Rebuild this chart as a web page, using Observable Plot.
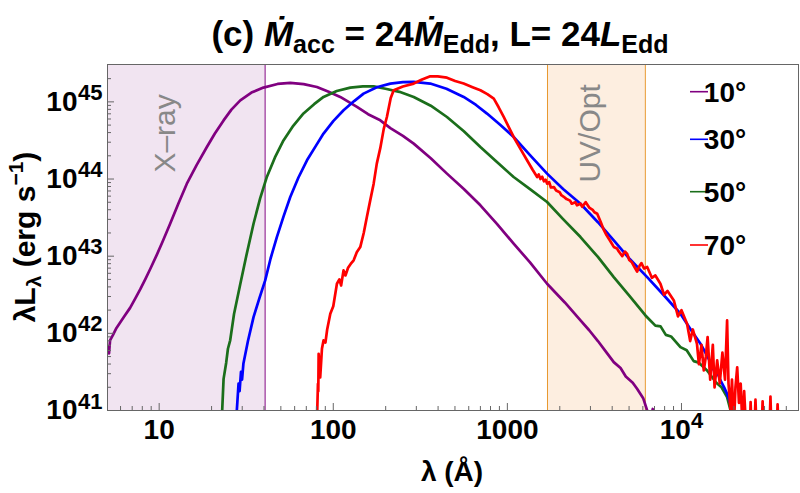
<!DOCTYPE html>
<html><head><meta charset="utf-8">
<script src="https://cdn.jsdelivr.net/npm/d3@7"></script>
<script src="https://cdn.jsdelivr.net/npm/@observablehq/plot@0.6"></script>
<style>
html,body{margin:0;padding:0;background:#fff;}
#chart{width:800px;height:493px;}
</style></head><body><div id="chart"></div>
<script>
// ---- Data (log10 of wavelength in Å and of λLλ in erg/s) ----
const angles = ["10°", "30°", "50°", "70°"];
const colors = ["#800080", "#0000ff", "#1b6e1b", "#ff0000"];

const lam10deg = [0.705,0.712,0.718,0.735,0.755,0.776,0.80,0.833,0.86,0.891,0.92,0.95,0.987,1.02,1.063,1.11,1.159,1.215,1.274,1.32,1.37,1.415,1.466,1.53,1.599,1.68,1.753,1.83,1.906,1.97,2.04,2.136,2.20,2.270,2.328,2.40,2.462,2.56,2.653,2.75,2.845,2.94,3.036,3.13,3.228,3.33,3.420,3.47,3.52,3.57,3.611,3.65,3.68,3.72,3.745,3.78,3.803,3.82,3.835,3.85];
const L10deg   = [41.83,41.74,41.91,41.98,42.07,42.14,42.22,42.33,42.44,42.57,42.70,42.84,43.02,43.19,43.42,43.68,43.94,44.18,44.415,44.59,44.76,44.90,45.02,45.12,45.185,45.232,45.245,45.23,45.193,45.135,45.064,44.934,44.84,44.761,44.66,44.56,44.459,44.27,44.070,43.87,43.659,43.42,43.162,42.92,42.643,42.40,42.167,42.04,41.90,41.75,41.627,41.55,41.44,41.36,41.281,41.16,41.0,40.85,41.02,40.7];

const lam30deg = [1.443,1.446,1.456,1.462,1.47,1.476,1.484,1.51,1.542,1.575,1.609,1.64,1.676,1.715,1.753,1.80,1.849,1.90,1.944,2.00,2.059,2.12,2.174,2.25,2.328,2.40,2.462,2.557,2.65,2.749,2.82,2.883,2.96,3.036,3.13,3.228,3.32,3.42,3.52,3.611,3.70,3.803,3.90,3.994,4.05,4.109,4.15,4.186,4.205,4.224,4.245,4.262,4.28,4.301,4.31];
const L30deg   = [40.7,41.0,41.35,41.25,41.50,41.40,41.61,41.90,42.21,42.45,42.686,42.97,43.248,43.52,43.767,44.02,44.243,44.43,44.589,44.75,44.891,45.01,45.107,45.19,45.237,45.255,45.258,45.237,45.17,45.064,44.96,44.848,44.70,44.545,44.31,44.070,43.87,43.680,43.44,43.205,42.97,42.729,42.49,42.254,42.06,41.865,41.70,41.519,41.50,41.389,41.30,41.216,41.10,41.0,40.7];

const lam50deg = [1.360,1.362,1.370,1.385,1.395,1.408,1.43,1.466,1.50,1.542,1.58,1.619,1.665,1.714,1.77,1.829,1.89,1.944,2.02,2.098,2.17,2.232,2.30,2.38,2.462,2.56,2.653,2.75,2.845,2.94,3.036,3.13,3.228,3.32,3.42,3.52,3.611,3.70,3.793,3.85,3.88,3.91,3.94,3.994,4.03,4.07,4.10,4.147,4.20,4.23,4.262,4.282,4.30];
const L50deg   = [40.7,41.0,41.41,41.62,41.80,41.91,42.25,42.64,43.0,43.42,43.75,44.03,44.28,44.50,44.69,44.85,44.97,45.064,45.14,45.185,45.20,45.20,45.17,45.13,45.064,44.95,44.804,44.62,44.415,44.22,44.026,43.87,43.702,43.48,43.248,42.99,42.729,42.49,42.232,42.10,42.09,41.98,41.96,41.821,41.78,41.64,41.62,41.519,41.36,41.30,41.173,41.0,40.7];

const lam70deg = [1.906,1.908,1.912,1.914,1.916,1.925,1.935,1.944,1.955,1.965,1.983,2.00,2.021,2.035,2.045,2.059,2.07,2.085,2.10,2.117,2.135,2.155,2.175,2.193,2.212,2.232,2.25,2.27,2.29,2.308,2.33,2.347,2.40,2.462,2.51,2.557,2.60,2.653,2.70,2.749,2.80,2.845,2.885,2.922,2.95,2.979,3.036,3.075,3.113,3.145,3.171,3.18,3.19,3.20,3.21,3.22,3.228,3.24,3.25,3.267,3.28,3.30,3.31,3.324,3.34,3.36,3.37,3.39,3.40,3.42,3.43,3.45,3.47,3.49,3.50,3.516,3.535,3.554,3.57,3.59,3.611,3.63,3.64,3.66,3.675,3.688,3.70,3.715,3.73,3.745,3.76,3.77,3.785,3.803,3.83,3.85,3.879,3.90,3.92,3.956,3.98,4.00,4.032,4.05,4.065,4.089,4.10,4.115,4.128,4.14,4.15,4.165,4.18,4.19,4.205,4.22,4.235,4.25,4.262,4.27,4.282,4.29,4.301,4.31,4.32,4.33,4.34,4.35,4.36,4.37,4.38,4.392,4.397,4.403,4.418,4.425,4.432,4.46,4.466,4.472,4.505,4.511,4.517,4.546,4.552,4.558];
const L70deg   = [40.7,41.0,41.346,41.25,41.735,41.43,41.80,41.908,41.88,42.05,42.254,42.35,42.643,42.70,42.62,42.816,42.75,42.85,42.90,42.946,43.05,43.118,43.30,43.507,43.72,43.940,44.20,44.40,44.65,44.804,45.05,45.150,45.20,45.237,45.29,45.332,45.33,45.314,45.27,45.237,45.19,45.150,45.10,45.042,44.93,44.804,44.545,44.39,44.243,44.12,44.026,44.06,44.00,44.03,43.97,43.99,43.94,43.96,43.89,43.896,43.85,43.83,43.79,43.77,43.74,43.72,43.68,43.70,43.66,43.68,43.64,43.70,43.63,43.60,43.57,43.55,43.45,43.34,43.27,43.20,43.12,43.10,43.06,43.00,43.06,43.03,42.95,42.92,42.86,42.80,42.88,42.91,42.84,42.86,42.72,42.75,42.643,42.50,42.55,42.427,42.22,42.30,42.124,41.90,42.05,41.865,41.60,41.85,41.519,41.70,41.95,41.40,41.85,41.30,41.65,41.35,41.75,41.40,42.167,41.35,41.0,41.40,40.8,41.30,41.56,41.10,41.35,40.8,41.25,40.8,40.7,40.7,41.11,40.7,40.7,41.14,40.7,40.7,41.12,40.7,40.7,41.18,40.7,40.7,41.08,40.7];

const seriesLam = [lam10deg, lam30deg, lam50deg, lam70deg];
const seriesL   = [L10deg, L30deg, L50deg, L70deg];

// bands (Å)
const bands = [
  {name: "X–ray", lo: 5.05, hi: 40.6, fill: "#f1e4f1", edge: "#800080"},
  {name: "UV/Opt", lo: 1700, hi: 6200, fill: "#fdeee0", edge: "#e8982e"}
];

// ticks
const xMajor = [10, 100, 1000, 10000];
const xMajorLabels = ["10", "100", "1000"];
const xMinor = [6,7,8,9,20,30,40,50,60,70,80,90,200,300,400,500,600,700,800,900,2000,3000,4000,5000,6000,7000,8000,9000,20000,30000,40000];
const yMajor = [1e41, 1e42, 1e43, 1e44, 1e45];
const yExponents = ["41", "42", "43", "44", "45"];
const yMinor = [2e41,3e41,4e41,5e41,6e41,7e41,8e41,9e41,2e42,3e42,4e42,5e42,6e42,7e42,8e42,9e42,2e43,3e43,4e43,5e43,6e43,7e43,8e43,9e43,2e44,3e44,4e44,5e44,6e44,7e44,8e44,9e44,2e45];

// ---- build table ----
const rows = [];
angles.forEach((a, k) => {
  seriesLam[k].forEach((l, i) => rows.push({series: a, lambda: Math.pow(10, l), L: Math.pow(10, seriesL[k][i])}));
});
const drawOrder = ["10°", "50°", "30°", "70°"];

const W = 800, H = 493, mL = 107, mR = 2, mT = 64, mB = 83;
const fw = W - mL - mR, fh = H - mT - mB;
const font = "Liberation Sans, Arial, Helvetica, sans-serif";

const plot = Plot.plot({
  width: W, height: H,
  marginLeft: mL, marginRight: mR, marginTop: mT, marginBottom: mB,
  style: {fontFamily: font, background: "#fff", overflow: "visible"},
  x: {type: "log", domain: [5.05, 47000], axis: null},
  y: {type: "log", domain: [1e41, 3.05e45], axis: null},
  color: {domain: angles, range: colors},
  marks: [
    Plot.rect(bands, {x1: "lo", x2: "hi", fill: "fill"}),
    Plot.ruleX(bands.slice(0, 1), {x: "hi", stroke: "edge", strokeWidth: 1}),
    Plot.ruleX([bands[1].lo, bands[1].hi], {stroke: bands[1].edge, strokeWidth: 1}),
    Plot.text([bands[0]], {x: 10.8, y: 3.9e44, text: "name", rotate: -90, fill: "#888", fontSize: 30}),
    Plot.text([bands[1]], {x: 3000, y: 3.9e44, text: "name", rotate: -90, fill: "#888", fontSize: 30}),
    ...drawOrder.map(s => Plot.line(rows.filter(r => r.series === s), {
      x: "lambda", y: "L", stroke: "series", strokeWidth: 2.7, clip: true, strokeLinejoin: "round"
    })),
    // inward ticks
    Plot.ruleX(xMajor, {stroke: "#666", insetTop: fh - 7}),
    Plot.ruleX(xMinor, {stroke: "#666", insetTop: fh - 4}),
    Plot.ruleY(yMajor, {stroke: "#666", insetRight: fw - 7}),
    Plot.ruleY(yMinor, {stroke: "#666", insetRight: fw - 4}),
    Plot.frame({stroke: "#666", strokeWidth: 1}),
    // tick labels
    Plot.text(xMajor.slice(0, 3), {x: d => d, frameAnchor: "bottom", text: (d, i) => xMajorLabels[i], dy: 19.5, lineAnchor: "middle", fontSize: 28, fontWeight: "bold", fill: "#000"}),
    Plot.text([10000], {x: d => d, frameAnchor: "bottom", text: () => "10", textAnchor: "end", dx: 9.4, dy: 19.5, lineAnchor: "middle", fontSize: 28, fontWeight: "bold", fill: "#000"}),
    Plot.text([10000], {x: d => d, frameAnchor: "bottom", text: () => "4", textAnchor: "start", dx: 9.4, dy: 10.5, lineAnchor: "middle", fontSize: 22, fontWeight: "bold", fill: "#000"}),
    Plot.text(yMajor, {y: d => d, frameAnchor: "left", text: () => "10", textAnchor: "end", dx: -30, lineAnchor: "middle", fontSize: 28, fontWeight: "bold", fill: "#000"}),
    Plot.text(yMajor, {y: d => d, frameAnchor: "left", text: (d, i) => yExponents[i], textAnchor: "end", dx: -5, dy: -9, lineAnchor: "middle", fontSize: 22, fontWeight: "bold", fill: "#000"})
  ]
});

const svg = d3.select(plot);
// Title
const t = svg.append("text").attr("x", 440).attr("y", 46).attr("text-anchor", "middle")
  .attr("font-family", font).attr("font-size", 35).attr("font-weight", "bold").attr("fill", "#000");
t.append("tspan").text("(c) ");
t.append("tspan").attr("font-style", "italic").text("Ṁ");
t.append("tspan").attr("font-size", 25).attr("dy", 7).text("acc");
t.append("tspan").attr("dy", -7).text(" = 24");
t.append("tspan").attr("font-style", "italic").text("Ṁ");
t.append("tspan").attr("font-size", 25).attr("dy", 7).text("Edd");
t.append("tspan").attr("dy", -7).text(", L= 24");
t.append("tspan").attr("font-style", "italic").text("L");
t.append("tspan").attr("font-size", 25).attr("dy", 7).text("Edd");

// Axis titles
svg.append("text").attr("x", 452).attr("y", 481).attr("text-anchor", "middle")
  .attr("font-family", font).attr("font-size", 28).attr("font-weight", "bold").text("λ (Å)");
const yl = svg.append("text").attr("transform", "translate(35,237) rotate(-90)").attr("text-anchor", "middle")
  .attr("font-family", font).attr("font-size", 30).attr("font-weight", "bold");
yl.append("tspan").text("λL");
yl.append("tspan").attr("font-size", 21).attr("dy", 6).text("λ");
yl.append("tspan").attr("dy", -6).text(" (erg s");
yl.append("tspan").attr("font-size", 21).attr("dy", -12).text("−1");
yl.append("tspan").attr("dy", 12).text(")");

// Legend
const legendY = [91.7, 139.3, 191.7, 245];
angles.forEach((a, i) => {
  const g = svg.append("g");
  g.append("line").attr("x1", 690).attr("x2", 708).attr("y1", legendY[i]).attr("y2", legendY[i])
    .attr("stroke", colors[i]).attr("stroke-width", 1.6);
  g.append("text").attr("x", 725).attr("y", legendY[i] + 10).attr("font-family", font)
    .attr("font-size", 28).attr("font-weight", "bold").attr("fill", "#000").text(a);
});

document.getElementById("chart").appendChild(plot);
</script></body></html>
